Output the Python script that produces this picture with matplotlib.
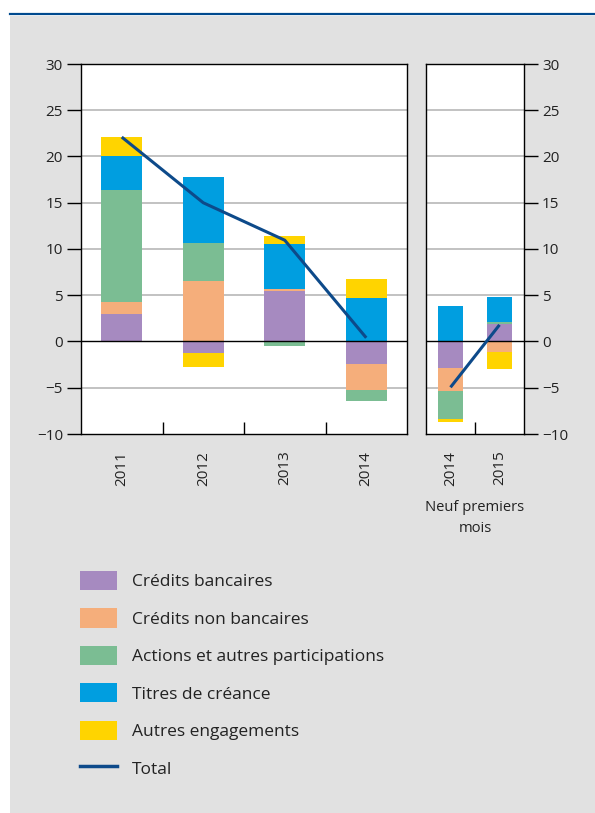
import matplotlib
matplotlib.use("Agg")
import matplotlib.pyplot as plt
import numpy as np
from matplotlib.patches import Patch, Rectangle
from matplotlib.lines import Line2D

plt.rcParams["font.family"] = ["Open Sans", "DejaVu Sans"]

# Annual figures
years = ["2011", "2012", "2013", "2014"]
# First nine months
years_9m = ["2014", "2015"]

series_names = [
    "Crédits bancaires",
    "Crédits non bancaires",
    "Actions et autres participations",
    "Titres de créance",
    "Autres engagements",
]
credits_bancaires = [3.0, -1.2, 5.45, -2.4]
credits_non_bancaires = [1.3, 6.5, 0.25, -2.8]
actions = [12.1, 4.1, -0.45, -1.2]
titres = [3.6, 7.2, 4.8, 4.7]
autres = [2.1, -1.6, 0.9, 2.1]

credits_bancaires_9m = [-2.9, 1.9]
credits_non_bancaires_9m = [-2.5, -1.1]
actions_9m = [-3.0, 0.2]
titres_9m = [3.8, 2.7]
autres_9m = [-0.35, -1.9]

total_label = "Total"
note_9m = "Neuf premiers\nmois"

colors = ["#a68ac0", "#f5ae7b", "#7bbd93", "#009ee0", "#ffd400"]
line_color = "#0d4a8a"
bg_color = "#e1e1e1"

W, H = 595, 813
fig = plt.figure(figsize=(W / 100, H / 100), dpi=100)
fig.patch.set_facecolor("white")

# grey panel and top rule
fig.add_artist(Rectangle((10 / W, 0), 1 - 10 / W, 1 - 16 / H,
                         transform=fig.transFigure, facecolor=bg_color,
                         edgecolor="none", zorder=0))
fig.add_artist(Line2D([10 / W, 1], [1 - 14.5 / H, 1 - 14.5 / H],
                      transform=fig.transFigure, color="#004a8f", lw=1.6))

ax_bottom = 1 - 434 / H
ax_height = 370 / H
ax1 = fig.add_axes([81 / W, ax_bottom, 326 / W, ax_height])
ax2 = fig.add_axes([426 / W, ax_bottom, 98 / W, ax_height])


def stacked(ax, cats, data):
    x = np.arange(len(cats))
    pos = np.zeros(len(cats))
    neg = np.zeros(len(cats))
    for vals, c in zip(data, colors):
        vals = np.asarray(vals, dtype=float)
        base = np.where(vals >= 0, pos, neg)
        ax.bar(x, vals, bottom=base, width=0.5, color=c, zorder=2, linewidth=0)
        pos = pos + np.where(vals >= 0, vals, 0)
        neg = neg + np.where(vals < 0, vals, 0)
    total = np.sum(np.asarray(data, dtype=float), axis=0)
    ax.plot(x, total, color=line_color, lw=2.2, zorder=3, solid_capstyle="butt")
    ax.set_xlim(-0.5, len(cats) - 0.5)
    ax.set_ylim(-10, 30)
    ax.set_yticks(np.arange(-10, 31, 5))
    ax.set_yticklabels(["\u221210" if v == -10 else ("\u22125" if v == -5 else str(v))
                        for v in range(-10, 31, 5)])
    for v in range(-5, 30, 5):
        if v == 0:
            ax.axhline(0, color="black", lw=1.0, zorder=2.5)
        else:
            ax.axhline(v, color="#b8b8b8", lw=1.2, zorder=1)
    # category separators as inward ticks
    ax.set_xticks(np.arange(len(cats) - 1) + 0.5)
    ax.set_xticklabels([])
    ax.tick_params(axis="x", direction="in", length=9, width=1.0, color="black")
    for s in ax.spines.values():
        s.set_linewidth(1.0)
        s.set_color("black")
    for i, c in enumerate(cats):
        ax.text(i, -11.8, c, rotation=90, ha="center", va="top",
                fontsize=11, color="#222222", transform=ax.transData)
    ax.set_facecolor("white")


stacked(ax1, years, [credits_bancaires, credits_non_bancaires, actions, titres, autres])
stacked(ax2, years_9m, [credits_bancaires_9m, credits_non_bancaires_9m, actions_9m,
                        titres_9m, autres_9m])

ax1.tick_params(axis="y", direction="out", length=10, width=1.0, labelsize=11,
                labelcolor="#222222", pad=3)
ax2.yaxis.tick_right()
ax2.tick_params(axis="y", direction="out", length=10, width=1.0, labelsize=11,
                labelcolor="#222222", pad=3, left=False, right=True)

ax2.text(0.5, -19.1, note_9m, ha="center", va="center", fontsize=10.6,
         color="#222222", linespacing=1.55, transform=ax2.transData)

handles = [Patch(facecolor=c, edgecolor="none") for c in colors]
handles.append(Line2D([], [], color=line_color, lw=2.5))
labels = series_names + [total_label]
fig.legend(handles, labels, loc="upper left",
           bbox_to_anchor=(80 / W, 1 - 571 / H), bbox_transform=fig.transFigure,
           frameon=False, fontsize=12.5, handlelength=2.13, handleheight=1.32,
           handletextpad=0.86, labelspacing=1.04, borderpad=0, borderaxespad=0,
           labelcolor="#222222")

fig.savefig("out.png", dpi=100, facecolor="white")
